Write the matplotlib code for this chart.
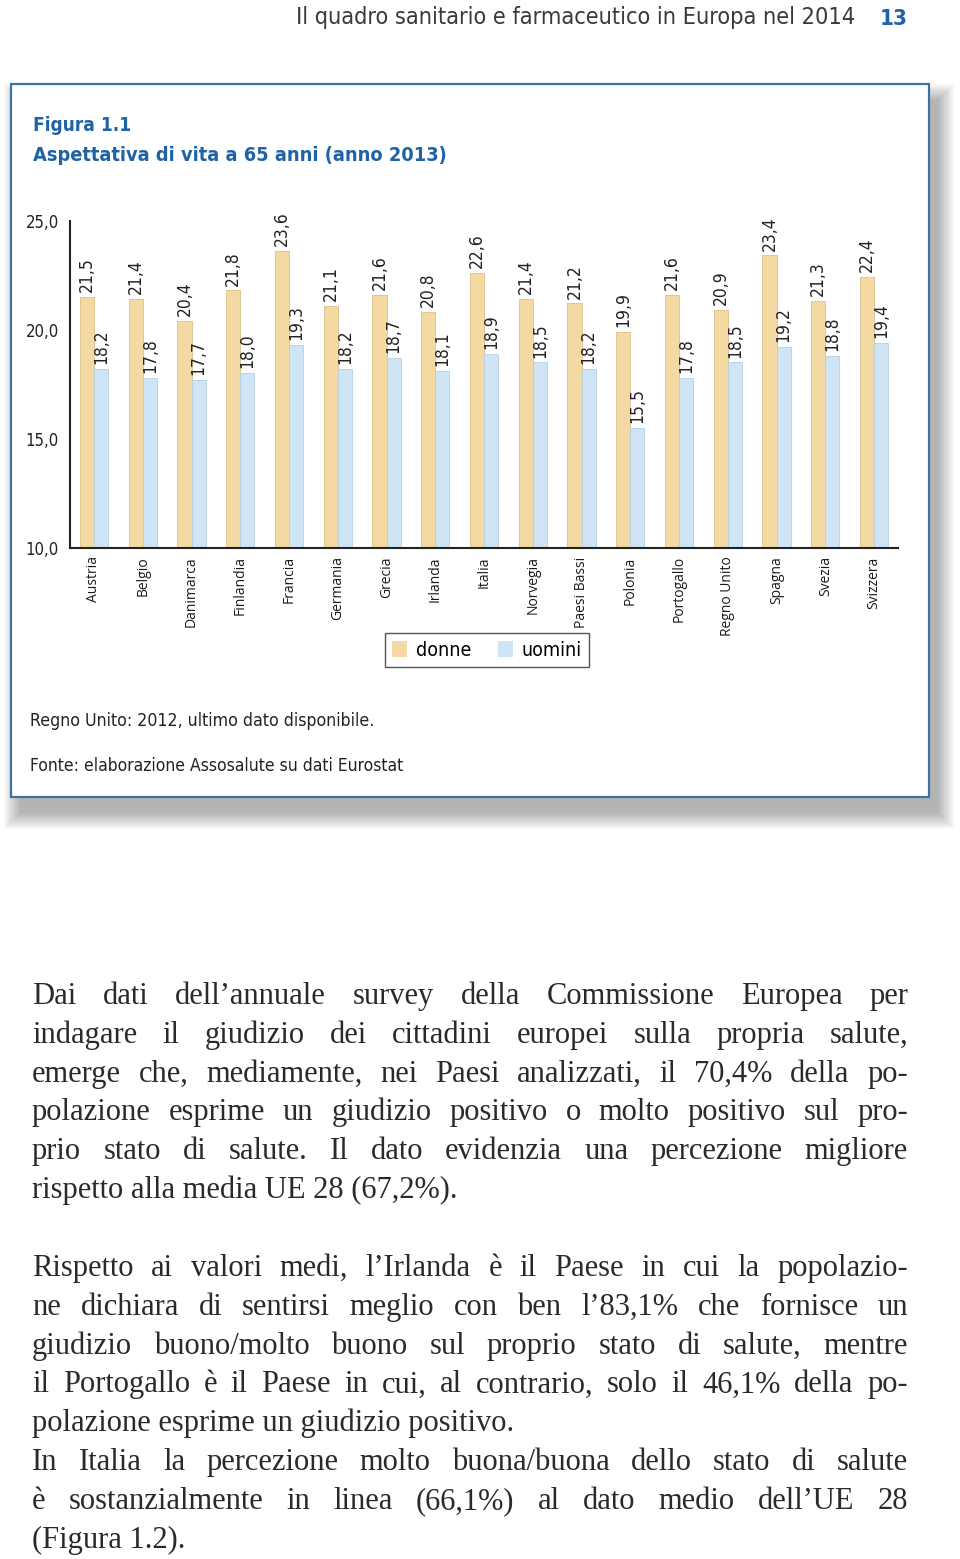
import numpy as np
import matplotlib
matplotlib.use("Agg")
import matplotlib.pyplot as plt
from matplotlib import font_manager as fm
from matplotlib.patches import Rectangle, Patch

# --- data -----------------------------------------------------------------
countries = ["Austria", "Belgio", "Danimarca", "Finlandia", "Francia", "Germania",
             "Grecia", "Irlanda", "Italia", "Norvegia", "Paesi Bassi", "Polonia",
             "Portogallo", "Regno Unito", "Spagna", "Svezia", "Svizzera"]
donne = [21.5, 21.4, 20.4, 21.8, 23.6, 21.1, 21.6, 20.8, 22.6, 21.4, 21.2, 19.9,
         21.6, 20.9, 23.4, 21.3, 22.4]
uomini = [18.2, 17.8, 17.7, 18.0, 19.3, 18.2, 18.7, 18.1, 18.9, 18.5, 18.2, 15.5,
          17.8, 18.5, 19.2, 18.8, 19.4]
series_names = ["donne", "uomini"]
y_ticks = [10, 15, 20, 25]

header = "Il quadro sanitario e farmaceutico in Europa nel 2014"
page_number = "13"
fig_label = "Figura 1.1"
fig_title = "Aspettativa di vita a 65 anni (anno 2013)"
note = "Regno Unito: 2012, ultimo dato disponibile."
source = "Fonte: elaborazione Assosalute su dati Eurostat"

para1 = [
    "Dai dati dell’annuale survey della Commissione Europea per",
    "indagare il giudizio dei cittadini europei sulla propria salute,",
    "emerge che, mediamente, nei Paesi analizzati, il 70,4% della po-",
    "polazione esprime un giudizio positivo o molto positivo sul pro-",
    "prio stato di salute. Il dato evidenzia una percezione migliore",
    "rispetto alla media UE 28 (67,2%).",
]
para2 = [
    "Rispetto ai valori medi, l’Irlanda è il Paese in cui la popolazio-",
    "ne dichiara di sentirsi meglio con ben l’83,1% che fornisce un",
    "giudizio buono/molto buono sul proprio stato di salute, mentre",
    "il Portogallo è il Paese in cui, al contrario, solo il 46,1% della po-",
    "polazione esprime un giudizio positivo.",
]
para3 = [
    "In Italia la percezione molto buona/buona dello stato di salute",
    "è sostanzialmente in linea (66,1%) al dato medio dell’UE 28",
    "(Figura 1.2).",
]

# --- fonts ----------------------------------------------------------------
installed = {(f.name, f.stretch) for f in fm.fontManager.ttflist}
if any(n == "Liberation Sans Narrow" for n, s in installed):
    COND = {"family": "Liberation Sans Narrow"}
elif ("DejaVu Sans", "condensed") in installed:
    COND = {"family": "DejaVu Sans", "stretch": "condensed"}
else:
    COND = {"family": "Roboto"}
SERIF = "Liberation Serif"
BLUE = "#1f63a6"
C_DONNE, E_DONNE = "#f4daa2", "#dcc189"
C_UOMINI, E_UOMINI = "#cfe5f5", "#b4cfe3"

W, H = 960, 1559
fig = plt.figure(figsize=(W / 100, H / 100), dpi=100)
renderer = fig.canvas.get_renderer()

# background axes in pixel coordinates
bg = fig.add_axes([0, 0, 1, 1])
bg.set_xlim(0, W)
bg.set_ylim(H, 0)
bg.axis("off")
bg.set_zorder(0)

# box with soft shadow
bx, by, bw, bh = 11, 84, 918, 713
for e in np.linspace(16, 0, 16):
    bg.add_patch(Rectangle((bx + 9 - e, by + 16 - e), bw + 2 * e, bh + 2 * e,
                           facecolor="black", alpha=0.02, lw=0))
bg.add_patch(Rectangle((bx, by), bw, bh, facecolor="white",
                       edgecolor="#41729f", lw=1.6))


def fitted_text(x, y, s, width, size, **kw):
    t = bg.text(x, y, s, fontsize=size, **kw)
    w = t.get_window_extent(renderer).width
    t.set_fontsize(size * width / w)
    return t


fitted_text(855, 24, header, 563, 16, ha="right", va="baseline",
            color="#3a3a3a", **COND)
fitted_text(908, 25, page_number, 28, 20, ha="right", va="baseline",
            color=BLUE, fontweight="bold", **COND)
fitted_text(33, 131, fig_label, 98, 18, va="baseline", color=BLUE,
            fontweight="semibold", **COND)
fitted_text(33, 161, fig_title, 415, 18, va="baseline", color=BLUE,
            fontweight="semibold", **COND)
fitted_text(30, 726, note, 347, 14, va="baseline", color="#222222", **COND)
fitted_text(30, 771, source, 375, 14, va="baseline", color="#222222", **COND)

# --- bar chart ------------------------------------------------------------
ax = fig.add_axes([70 / W, 1 - 548 / H, 828 / W, 327.5 / H])
ax.set_zorder(3)
ax.patch.set_alpha(0)

x = np.arange(len(countries))
w = 0.29
ax.bar(x - w / 2, donne, w, color=C_DONNE, edgecolor=E_DONNE, lw=0.6)
ax.bar(x + w / 2, uomini, w, color=C_UOMINI, edgecolor=E_UOMINI, lw=0.6)

for xi, v in zip(x - w / 2, donne):
    ax.annotate(f"{v:.1f}".replace(".", ","), (xi, v), xytext=(0, 3.5),
                textcoords="offset points", rotation=90, ha="center",
                va="bottom", fontsize=12.5, fontweight="light",
                color="#222222", **COND)
for xi, v in zip(x + w / 2, uomini):
    ax.annotate(f"{v:.1f}".replace(".", ","), (xi, v), xytext=(0, 3.5),
                textcoords="offset points", rotation=90, ha="center",
                va="bottom", fontsize=12.5, fontweight="light",
                color="#222222", **COND)

ax.set_xlim(-0.492, 16.49)
ax.set_ylim(10, 25)
ax.set_yticks(y_ticks, [f"{t:.1f}".replace(".", ",") for t in y_ticks],
              fontsize=12, color="#222222", fontweight="light", **COND)
ax.set_xticks(x, countries, rotation=90, fontsize=10, family="Open Sans",
              color="#1a1a1a")
ax.tick_params(axis="both", length=0)
ax.tick_params(axis="y", pad=8)
ax.tick_params(axis="x", pad=6)
for side in ["top", "right"]:
    ax.spines[side].set_visible(False)
for side in ["left", "bottom"]:
    ax.spines[side].set_color("#222222")
    ax.spines[side].set_linewidth(1.5)

handles = [Patch(facecolor=C_DONNE, lw=0), Patch(facecolor=C_UOMINI, lw=0)]
leg = ax.legend(handles, series_names, ncol=2, loc="center",
                bbox_to_anchor=(487 / W, 1 - 650 / H),
                bbox_transform=fig.transFigure, fancybox=False,
                edgecolor="#555555", framealpha=1,
                prop=fm.FontProperties(size=14, weight="light", **COND),
                handlelength=0.75, handleheight=0.9, handletextpad=0.45,
                columnspacing=1.4, borderpad=0.4)
leg.get_frame().set_linewidth(1.0)

# --- body text (justified) ------------------------------------------------
X0, X1 = 32, 908
STEP = 38.8


def word_widths(words, size):
    out = []
    for wd in words:
        t = bg.text(0, 0, wd, fontsize=size, family=SERIF)
        out.append(t.get_window_extent(renderer).width)
        t.remove()
    return out


def block_size(lines, size):
    best = size
    for line in lines[:-1]:
        words = line.split(" ")
        need = sum(word_widths(words, size)) + 0.22 * size * 100 / 72 * (len(words) - 1)
        best = min(best, size * (X1 - X0) / need)
    return best


def draw_block(lines, base, size):
    for i, line in enumerate(lines):
        y = base + i * STEP
        if i == len(lines) - 1:
            bg.text(X0, y, line, fontsize=size, family=SERIF, va="baseline",
                    color="#2a2a2a")
            continue
        words = line.split(" ")
        ws = word_widths(words, size)
        gap = (X1 - X0 - sum(ws)) / (len(words) - 1)
        xx = X0
        for wd, ww in zip(words, ws):
            bg.text(xx, y, wd, fontsize=size, family=SERIF, va="baseline",
                    color="#2a2a2a")
            xx += ww + gap


size1 = block_size(para1, 22)
draw_block(para1, 1004, size1)
size2 = min(block_size(para2, 22), block_size(para3, 22))
draw_block(para2, 1276, size2)
draw_block(para3, 1276 + 5 * STEP, size2)

fig.savefig("out.png", dpi=100)
